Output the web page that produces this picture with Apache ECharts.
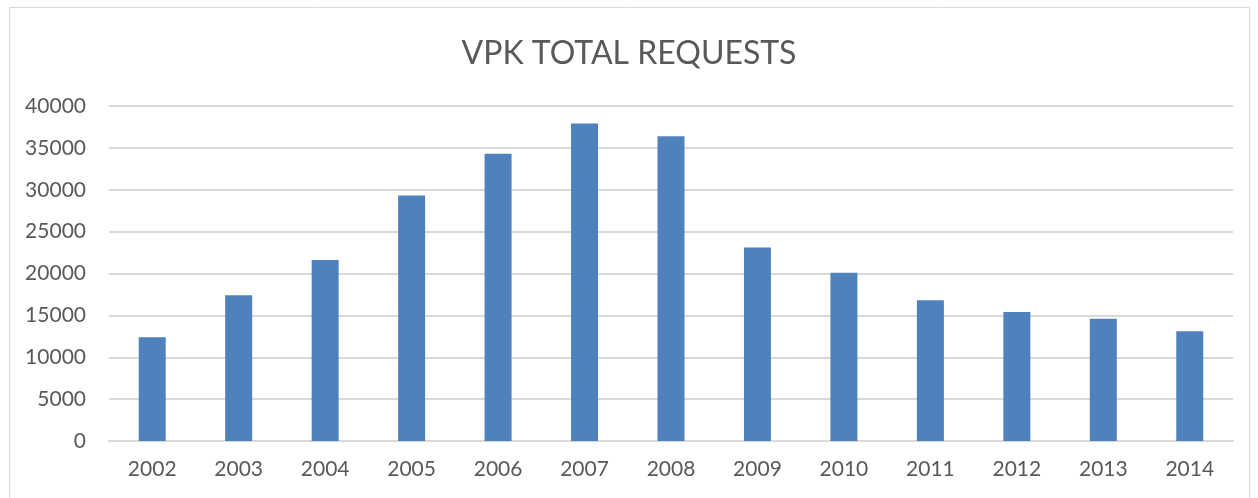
<!DOCTYPE html>
<html><head><meta charset="utf-8">
<script src="https://cdn.jsdelivr.net/npm/echarts@6/dist/echarts.min.js"></script>
<style>html,body{margin:0;padding:0;background:#fff}#c{width:1258px;height:498px}</style>
</head><body><div id="c"></div>
<script>
const categories = ['2002','2003','2004','2005','2006','2007','2008','2009','2010','2011','2012','2013','2014'];
const requests = [12400,17400,21600,29300,34300,37900,36400,23100,20100,16800,15400,14600,13100];
const titleText = 'VPK TOTAL REQUESTS';

const chart = echarts.init(document.getElementById('c'), null, {renderer:'canvas'});
chart.setOption({
  animation:false,
  backgroundColor:'#fff',
  title:{text:titleText,left:'center',top:33,textStyle:{fontFamily:'Lato',fontWeight:'normal',fontSize:32,color:'#595959'}},
  graphic:[{type:'rect',shape:{x:9.5,y:7.5,width:1240,height:495},style:{fill:'none',stroke:'#d9d9d9',lineWidth:1},silent:true}],
  grid:{left:109,right:25,top:106,bottom:57,containLabel:false},
  xAxis:{type:'category',data:categories,
    axisLine:{lineStyle:{color:'#d9d9d9',width:2}},axisTick:{show:false},
    axisLabel:{color:'#595959',fontFamily:'Lato',fontSize:21,margin:18}},
  yAxis:{type:'value',min:0,max:40000,interval:5000,
    axisLine:{show:false},axisTick:{show:false},
    splitLine:{lineStyle:{color:'#d9d9d9',width:2}},
    axisLabel:{color:'#595959',fontFamily:'Lato',fontSize:21,margin:23,formatter:v=>String(v)}},
  series:[{type:'bar',data:requests,barWidth:27,itemStyle:{color:'#4f81bd'}}]
});
</script></body></html>
